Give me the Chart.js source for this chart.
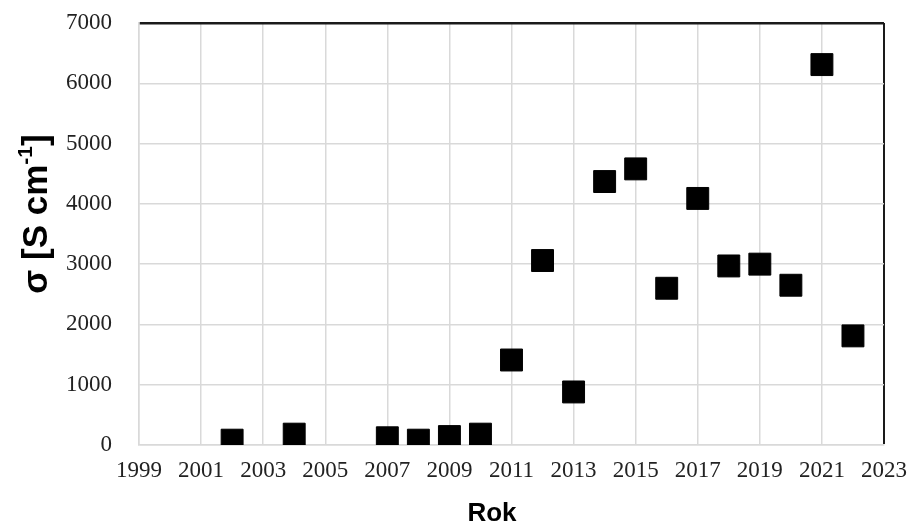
<!DOCTYPE html>
<html>
<head>
<meta charset="utf-8">
<script src="https://cdn.jsdelivr.net/npm/chart.js@4/dist/chart.umd.min.js"></script>
<style>
  html, body { margin: 0; padding: 0; background: #ffffff; }
  #wrap { width: 912px; height: 524px; }
</style>
</head>
<body>
<div id="wrap"><canvas id="chart" width="912" height="524"></canvas></div>
<script>
// data
const years = [2002, 2004, 2007, 2008, 2009, 2010, 2011, 2012, 2013, 2014, 2015, 2016, 2017, 2018, 2019, 2020, 2021, 2022]
const sigma = [80, 180, 120, 80, 140, 180, 1410, 3060, 880, 4370, 4580, 2600, 4090, 2970, 3000, 2650, 6310, 1810]

const xTicks = [1999, 2001, 2003, 2005, 2007, 2009, 2011, 2013, 2015, 2017, 2019, 2021, 2023]
const yTicks = [0, 1000, 2000, 3000, 4000, 5000, 6000, 7000]

const xTitle = "Rok"
const yTitle = ["σ [S cm", "-1", "]"]

const gridGray = "#d9d9d9"
const frameDark = "#1a1a1a"

// axis titles drawn on the canvas so they can sit where the original has them
const axisTitles = {
  id: "axisTitles",
  afterDraw(chart) {
    const ctx = chart.ctx
    ctx.save()
    ctx.fillStyle = "#000000"

    ctx.font = "bold 26px 'Liberation Sans', Arial, sans-serif"
    ctx.textAlign = "center"
    ctx.textBaseline = "alphabetic"
    ctx.fillText(xTitle, 492, 521)

    const big = "bold 35px 'Liberation Sans', Arial, sans-serif"
    const small = "bold 21px 'Liberation Sans', Arial, sans-serif"
    ctx.font = big
    const w0 = ctx.measureText(yTitle[0]).width
    const w2 = ctx.measureText(yTitle[2]).width
    ctx.font = small
    const w1 = ctx.measureText(yTitle[1]).width
    const total = w0 + w1 + w2

    ctx.translate(47, 214)
    ctx.rotate(-Math.PI / 2)
    ctx.textAlign = "left"
    let x = -total / 2
    ctx.font = big
    ctx.fillText(yTitle[0], x, 0)
    x += w0
    ctx.font = small
    ctx.fillText(yTitle[1], x, -15)
    x += w1
    ctx.font = big
    ctx.fillText(yTitle[2], x, 0)
    ctx.restore()
  },
}

const ctx = document.getElementById("chart").getContext("2d")

new Chart(ctx, {
  type: "scatter",
  data: {
    datasets: [
      {
        label: "σ",
        data: years.map((y, i) => ({ x: y, y: sigma[i] })),
        pointStyle: "rect",
        pointRadius: 15.5,
        pointHoverRadius: 15.5,
        backgroundColor: "#000000",
        borderColor: "#000000",
        borderWidth: 1,
      },
    ],
  },
  options: {
    responsive: false,
    animation: false,
    events: [],
    layout: { padding: { top: 23, right: 28, left: 0, bottom: 0 } },
    plugins: {
      legend: { display: false },
      tooltip: { enabled: false },
    },
    scales: {
      x: {
        type: "linear",
        min: 1999,
        max: 2023,
        afterBuildTicks: (scale) => {
          scale.ticks = xTicks.map((v) => ({ value: v }))
        },
        afterFit: (scale) => {
          // fixed band under the plot, no extra side padding from the labels
          scale.height = 79
          scale.paddingLeft = 0
          scale.paddingRight = 0
        },
        ticks: {
          color: "#222222",
          font: { family: "'Liberation Serif', 'Times New Roman', serif", size: 23 },
          padding: 12,
          maxRotation: 0,
          autoSkip: false,
          callback: (v) => String(v),
        },
        grid: {
          drawTicks: false,
          color: (c) => (c.tick && c.tick.value === 2023 ? frameDark : gridGray),
          lineWidth: (c) => (c.tick && c.tick.value === 2023 ? 2 : 1.5),
        },
        border: { color: gridGray, width: 1.5 },
      },
      y: {
        min: 0,
        max: 7000,
        afterBuildTicks: (scale) => {
          scale.ticks = yTicks.map((v) => ({ value: v }))
        },
        afterFit: (scale) => {
          scale.width = 139
          scale.paddingTop = 0
          scale.paddingBottom = 0
        },
        ticks: {
          color: "#222222",
          font: { family: "'Liberation Serif', 'Times New Roman', serif", size: 23 },
          padding: 27,
          callback: (v) => String(v),
        },
        grid: {
          drawTicks: false,
          color: (c) => (c.tick && c.tick.value === 7000 ? frameDark : gridGray),
          lineWidth: (c) => (c.tick && c.tick.value === 7000 ? 2.5 : 1.5),
        },
        border: { color: gridGray, width: 1.5 },
      },
    },
  },
  plugins: [axisTitles],
})
</script>
</body>
</html>
